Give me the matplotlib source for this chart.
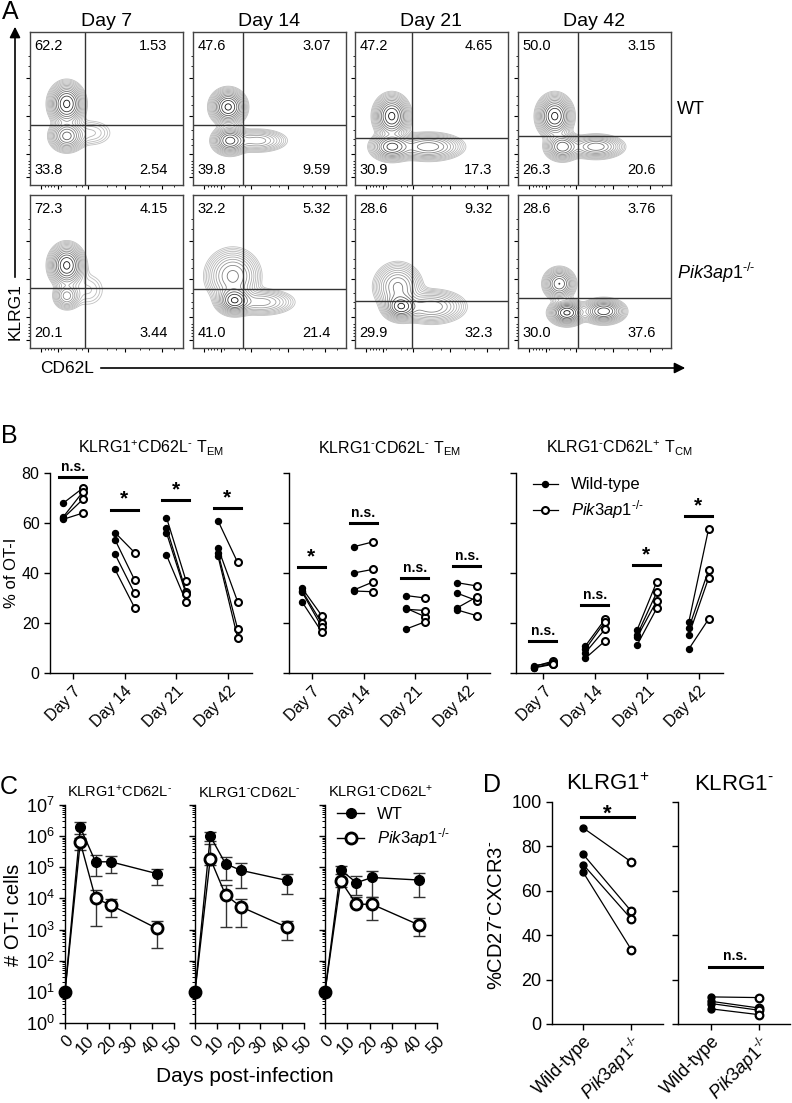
import matplotlib
matplotlib.use("Agg")
import matplotlib.pyplot as plt
import numpy as np
from matplotlib.patches import FancyArrowPatch

plt.rcParams['font.family'] = ['Liberation Sans', 'DejaVu Sans']
plt.rcParams['mathtext.fontset'] = 'custom'
plt.rcParams['mathtext.rm'] = 'Liberation Sans'
plt.rcParams['mathtext.it'] = 'Liberation Sans:italic'
plt.rcParams['mathtext.bf'] = 'Liberation Sans:bold'
plt.rcParams['axes.linewidth'] = 1.0

KO = r'$\mathit{Pik3ap1}^{\text{-/-}}$'
NEG = r'$^{\text{-}}$'
POS = r'$^{+}$'

# ---------------- data ----------------
# Panel A: quadrant frequencies (UL, UR, LL, LR) per day
days_a = ['Day 7', 'Day 14', 'Day 21', 'Day 42']
quad_wt = [('62.2', '1.53', '33.8', '2.54'), ('47.6', '3.07', '39.8', '9.59'),
           ('47.2', '4.65', '30.9', '17.3'), ('50.0', '3.15', '26.3', '20.6')]
quad_ko = [('72.3', '4.15', '20.1', '3.44'), ('32.2', '5.32', '41.0', '21.4'),
           ('28.6', '9.32', '29.9', '32.3'), ('28.6', '3.76', '30.0', '37.6')]
# gate positions (fraction of axis): vertical CD62L gate, horizontal KLRG1 gate
gate_x_wt = [0.36, 0.33, 0.37, 0.39]
gate_y_wt = [0.39, 0.39, 0.31, 0.32]
gate_x_ko = [0.36, 0.33, 0.37, 0.39]
gate_y_ko = [0.39, 0.385, 0.31, 0.33]
# population clusters: (x, y, sx, sy, weight)
pops_wt = [
    [(0.24, 0.53, 0.05, 0.06, 1.0), (0.24, 0.32, 0.05, 0.045, 0.6), (0.40, 0.34, 0.08, 0.05, 0.08)],
    [(0.23, 0.51, 0.05, 0.05, 0.9), (0.24, 0.29, 0.05, 0.04, 0.7), (0.42, 0.29, 0.09, 0.035, 0.25)],
    [(0.24, 0.45, 0.05, 0.06, 0.9), (0.24, 0.25, 0.06, 0.04, 0.7), (0.48, 0.25, 0.10, 0.04, 0.45)],
    [(0.24, 0.45, 0.05, 0.06, 0.9), (0.29, 0.25, 0.05, 0.04, 0.6), (0.51, 0.25, 0.08, 0.035, 0.45)],
]
pops_ko = [
    [(0.24, 0.54, 0.05, 0.06, 1.0), (0.24, 0.34, 0.04, 0.04, 0.35), (0.38, 0.38, 0.07, 0.07, 0.06)],
    [(0.26, 0.47, 0.08, 0.08, 0.5), (0.27, 0.31, 0.05, 0.04, 1.0), (0.45, 0.30, 0.10, 0.04, 0.3)],
    [(0.28, 0.40, 0.07, 0.07, 0.5), (0.30, 0.27, 0.05, 0.04, 1.0), (0.50, 0.27, 0.10, 0.05, 0.45)],
    [(0.27, 0.42, 0.045, 0.045, 0.7), (0.32, 0.23, 0.05, 0.035, 1.0), (0.56, 0.24, 0.06, 0.035, 0.85)],
]

# Panel B: % of OT-I per mouse (paired WT -> KO)
days_b = ['Day 7', 'Day 14', 'Day 21', 'Day 42']
b1_wt = [[68.0, 62.5, 61.5, 62.0], [56.2, 53.4, 47.6, 41.5], [62.2, 58.2, 56.1, 47.2], [60.9, 50.1, 48.1, 46.8]]
b1_ko = [[74.0, 72.5, 64.0, 69.5], [48.2, 37.3, 32.0, 26.2], [36.9, 32.6, 31.6, 28.6], [44.3, 28.6, 17.7, 14.2]]
b1_sig = ['n.s.', '*', '*', '*']
b1_bar = [78.4, 65.4, 69.1, 66.0]
b2_wt = [[34.0, 33.0, 32.5, 28.5], [50.5, 40.0, 33.2, 32.8], [31.0, 26.0, 25.5, 17.5], [36.1, 31.9, 26.1, 25.2]]
b2_ko = [[23.0, 20.0, 18.5, 16.5], [52.5, 41.5, 36.5, 32.5], [30.0, 22.5, 25.0, 20.5], [34.8, 28.9, 30.5, 22.9]]
b2_sig = ['*', 'n.s.', 'n.s.', 'n.s.']
b2_bar = [42.3, 59.9, 38.2, 43.0]
b3_wt = [[2.5, 2.0, 3.0, 2.2], [10.8, 9.5, 8.1, 5.9], [17.2, 15.2, 14.3, 11.2], [20.5, 17.9, 15.2, 9.6]]
b3_ko = [[4.8, 3.5, 4.0, 3.8], [21.5, 20.5, 17.5, 12.8], [36.5, 32.3, 28.9, 25.9], [57.5, 41.1, 37.9, 21.5]]
b3_sig = ['n.s.', 'n.s.', '*', '*']
b3_bar = [12.8, 27.2, 43.1, 62.8]

# Panel C: # OT-I cells (mean, lower, upper)
days_c = [0, 7, 14, 21, 42]
c1_wt = [10, 1.9e6, 1.5e5, 1.5e5, 6.3e4]
c1_wt_lo = [10, 1.2e6, 5.2e4, 6.6e4, 2.8e4]
c1_wt_hi = [10, 2.9e6, 2.5e5, 2.3e5, 9.1e4]
c1_ko = [10, 6.4e5, 1.0e4, 6.1e3, 1.1e3]
c1_ko_lo = [10, 3.5e5, 1.3e3, 2.5e3, 2.6e2]
c1_ko_hi = [10, 9.0e5, 1.9e4, 9.5e3, 1.9e3]
c2_wt = [10, 1.0e6, 1.3e5, 8.0e4, 3.8e4]
c2_wt_lo = [10, 7.0e5, 3.8e4, 2.1e4, 1.4e4]
c2_wt_hi = [10, 1.4e6, 2.1e5, 1.4e5, 6.3e4]
c2_ko = [10, 1.9e5, 1.3e4, 5.4e3, 1.2e3]
c2_ko_lo = [10, 1.2e5, 1.2e3, 1.2e3, 4.7e2]
c2_ko_hi = [10, 5.6e5, 2.7e4, 9.5e3, 1.9e3]
c3_wt = [10, 8.3e4, 3.2e4, 4.7e4, 3.9e4]
c3_wt_lo = [10, 6.0e4, 1.3e4, 1.1e4, 1.1e4]
c3_wt_hi = [10, 1.1e5, 5.4e4, 7.8e4, 6.7e4]
c3_ko = [10, 3.7e4, 6.5e3, 6.5e3, 1.4e3]
c3_ko_lo = [10, 2.3e4, 6.5e3, 2.0e3, 6.0e2]
c3_ko_hi = [10, 4.5e4, 1.1e4, 1.1e4, 2.3e3]

# Panel D: %CD27-CXCR3-
groups_d = ['Wild-type', KO]
d1_wt = [88.3, 76.4, 71.8, 68.3]
d1_ko = [73.0, 50.8, 47.3, 33.5]
d2_wt = [12.2, 10.2, 9.2, 6.8]
d2_ko = [11.9, 7.2, 6.2, 4.2]

# ---------------- layout helpers ----------------
W, H = 792, 1103
fig = plt.figure(figsize=(W / 100, H / 100), dpi=100)


def add_ax(x0, y0, x1, y1):
    return fig.add_axes([x0 / W, 1 - y1 / H, (x1 - x0) / W, (y1 - y0) / H])


def ftext(x, y, s, **kw):
    fig.text(x / W, 1 - y / H, s, **kw)


def farrow(x0, y0, x1, y1):
    fig.add_artist(FancyArrowPatch((x0 / W, 1 - y0 / H), (x1 / W, 1 - y1 / H),
                                   transform=fig.transFigure, arrowstyle='-|>',
                                   mutation_scale=16, lw=1.2, color='k'))


# ---------------- Panel A ----------------
gx = np.linspace(0, 1, 220)
GX, GY = np.meshgrid(gx, gx)
cont_cmap = matplotlib.colors.LinearSegmentedColormap.from_list('g', ['#c0c0c0', '#101010'])
col_x = [30, 193, 355, 518]
row_y = [32, 195]
for r, (quads, gxs, gys, pops) in enumerate([(quad_wt, gate_x_wt, gate_y_wt, pops_wt),
                                              (quad_ko, gate_x_ko, gate_y_ko, pops_ko)]):
    for c in range(4):
        ax = add_ax(col_x[c], row_y[r], col_x[c] + 153, row_y[r] + 153)
        dens = np.zeros_like(GX)
        for (mx, my, sx, sy, w) in pops[c]:
            dens += w * np.exp(-((GX - mx) ** 2 / (2 * sx ** 2) + (GY - my) ** 2 / (2 * sy ** 2)))
        dens /= dens.max()
        levels = np.geomspace(0.025, 0.92, 14)
        ax.contour(GX, GY, dens, levels=levels, cmap=cont_cmap, linewidths=0.6)
        ax.axvline(gxs[c], color='#333333', lw=1.0)
        ax.axhline(gys[c], color='#333333', lw=1.0)
        ul, ur, ll, lr = quads[c]
        ax.text(0.03, 0.91, ul, transform=ax.transAxes, fontsize=10.5, va='center', ha='left')
        ax.text(0.9, 0.91, ur, transform=ax.transAxes, fontsize=10.5, va='center', ha='right')
        ax.text(0.03, 0.1, ll, transform=ax.transAxes, fontsize=10.5, va='center', ha='left')
        ax.text(0.9, 0.1, lr, transform=ax.transAxes, fontsize=10.5, va='center', ha='right')
        ax.set_xlim(0, 1)
        ax.set_ylim(0, 1)
        ax.set_xticks([0.07, 0.18, 0.38, 0.62, 0.86])
        ax.set_xticks([0.1, 0.12, 0.14, 0.16, 0.2, 0.3, 0.34, 0.5, 0.56, 0.72, 0.78, 0.94], minor=True)
        ax.set_yticks([0.05, 0.2, 0.45, 0.7])
        ax.set_yticks([0.08, 0.1, 0.12, 0.14, 0.16, 0.26, 0.3, 0.36, 0.52, 0.58, 0.78, 0.84], minor=True)
        ax.tick_params(which='major', length=3, width=0.8, labelbottom=False, labelleft=False)
        ax.tick_params(which='minor', length=1.5, width=0.6)
        for s in ax.spines.values():
            s.set_color('#444444')
        if r == 0:
            ax.set_title(days_a[c], fontsize=14, pad=4)

ftext(677, 110, 'WT', fontsize=13, va='center', ha='left')
ftext(677, 273, KO, fontsize=13, va='center', ha='left')
ftext(15, 312, 'KLRG1', fontsize=12.5, rotation=90, va='center', ha='center')
farrow(15, 280, 15, 24)
ftext(40, 368, 'CD62L', fontsize=12.5, va='center', ha='left')
farrow(98, 368, 688, 368)
ftext(10, 12, 'A', fontsize=18, va='center', ha='center')

# ---------------- Panel B ----------------
b_specs = [
    ((50, 473, 252, 673), (-0.45, 3.47), b1_wt, b1_ko, b1_sig, b1_bar,
     'KLRG1' + POS + 'CD62L' + NEG + r' T$_{\rm EM}$'),
    ((289, 473, 490, 673), (-0.44, 3.44), b2_wt, b2_ko, b2_sig, b2_bar,
     'KLRG1' + NEG + 'CD62L' + NEG + r' T$_{\rm EM}$'),
    ((516, 473, 723, 673), (-0.53, 3.47), b3_wt, b3_ko, b3_sig, b3_bar,
     'KLRG1' + NEG + 'CD62L' + POS + r' T$_{\rm CM}$'),
]
for k, (box, xl, wt, ko, sig, bar, title) in enumerate(b_specs):
    ax = add_ax(*box)
    for i in range(len(days_b)):
        xw, xk = i - 0.19, i + 0.19
        for j in range(len(wt[i])):
            ax.plot([xw, xk], [wt[i][j], ko[i][j]], color='k', lw=0.9, zorder=2)
        ax.plot([xw] * len(wt[i]), wt[i], 'o', color='k', ms=4.3, zorder=3, clip_on=False)
        ax.plot([xk] * len(ko[i]), ko[i], 'o', mfc='white', mec='k', mew=1.5, ms=5, zorder=3,
                clip_on=False)
        ax.plot([i - 0.27, i + 0.25], [bar[i], bar[i]], color='k', lw=2.2)
        if sig[i] == '*':
            ax.text(i - 0.01, bar[i] + 0.3, '*', ha='center', va='bottom', fontsize=15, fontweight='bold')
        else:
            ax.text(i - 0.01, bar[i] + 1.2, 'n.s.', ha='center', va='bottom', fontsize=10, fontweight='bold')
    ax.set_xlim(*xl)
    ax.set_ylim(0, 80)
    ax.set_yticks([0, 20, 40, 60, 80])
    ax.set_xticks(range(len(days_b)))
    ax.set_xticklabels(days_b, rotation=45, ha='right', rotation_mode='anchor', fontsize=11)
    ax.tick_params(length=4, width=1, labelsize=11.5)
    if k > 0:
        ax.set_yticklabels([])
    ax.spines['top'].set_visible(False)
    ax.spines['right'].set_visible(False)
    ax.set_title(title, fontsize=11.5, pad=14)
    if k == 2:
        ax.plot([], [], '-o', color='k', ms=4.3, lw=0.9, label='Wild-type')
        ax.plot([], [], '-o', color='k', mfc='white', mec='k', mew=1.5, ms=5, lw=0.9, label=KO)
        ax.legend(loc='upper left', frameon=False, fontsize=12, handlelength=1.5,
                  borderaxespad=0.1, labelspacing=0.35, bbox_to_anchor=(0.04, 1.02))

ftext(12, 573, '% of OT-I', fontsize=12, rotation=90, va='center', ha='center')
ftext(9, 436, 'B', fontsize=18, va='center', ha='center')

# ---------------- Panel C ----------------
c_specs = [
    ((65, 805, 174, 1023), c1_wt, c1_wt_lo, c1_wt_hi, c1_ko, c1_ko_lo, c1_ko_hi, 'KLRG1' + POS + 'CD62L' + NEG),
    ((195, 805, 304, 1023), c2_wt, c2_wt_lo, c2_wt_hi, c2_ko, c2_ko_lo, c2_ko_hi, 'KLRG1' + NEG + 'CD62L' + NEG),
    ((325, 805, 437, 1023), c3_wt, c3_wt_lo, c3_wt_hi, c3_ko, c3_ko_lo, c3_ko_hi, 'KLRG1' + NEG + 'CD62L' + POS),
]
for k, (box, wt, wlo, whi, ko, klo, khi, title) in enumerate(c_specs):
    ax = add_ax(*box)
    ax.set_yscale('log')
    wt, wlo, whi = np.array(wt), np.array(wlo), np.array(whi)
    ko, klo, khi = np.array(ko), np.array(klo), np.array(khi)
    ax.errorbar(days_c[1:], ko[1:], yerr=[ko[1:] - klo[1:], khi[1:] - ko[1:]], fmt='none',
                ecolor='#333333', elinewidth=1, capsize=4, capthick=1, zorder=2)
    ax.errorbar(days_c[1:], wt[1:], yerr=[wt[1:] - wlo[1:], whi[1:] - wt[1:]], fmt='none',
                ecolor='#333333', elinewidth=1, capsize=4, capthick=1, zorder=2)
    ax.plot(days_c, ko, '-', color='k', lw=1, zorder=3)
    ax.plot(days_c[1:], ko[1:], 'o', mfc='white', mec='k', mew=2, ms=8, zorder=4)
    ax.plot(days_c, wt, '-', color='k', lw=1, zorder=3)
    ax.plot(days_c[1:], wt[1:], 'o', color='k', ms=7, zorder=5)
    ax.plot(days_c[:1], wt[:1], 'o', color='k', ms=9, zorder=5, clip_on=False)
    ax.set_xlim(0, 50)
    ax.set_ylim(1, 1e7)
    ax.set_xticks([0, 10, 20, 30, 40, 50])
    ax.set_xticklabels(['0', '10', '20', '30', '40', '50'], rotation=45, ha='right',
                       rotation_mode='anchor', fontsize=12)
    ax.set_yticks([10.0 ** n for n in range(8)])
    ax.yaxis.set_minor_locator(matplotlib.ticker.LogLocator(base=10, subs=np.arange(2, 10), numticks=20))
    ax.yaxis.set_minor_formatter(matplotlib.ticker.NullFormatter())
    if k == 0:
        ax.set_yticklabels([r'$10^{%d}$' % n for n in range(8)], fontsize=13)
    else:
        ax.set_yticklabels([])
    ax.tick_params(which='major', length=4, width=1)
    ax.tick_params(which='minor', length=2, width=0.7)
    ax.spines['top'].set_visible(False)
    ax.spines['right'].set_visible(False)
    ax.set_title(title, fontsize=10.5, pad=6)
    if k == 2:
        ax.plot([], [], '-o', color='k', ms=7, lw=1, label='WT')
        ax.plot([], [], '-o', color='k', mfc='white', mec='k', mew=2, ms=8, lw=1, label=KO)
        ax.legend(loc='upper left', frameon=False, fontsize=12, handlelength=1.6,
                  borderaxespad=0.0, labelspacing=0.25, bbox_to_anchor=(0.05, 1.02))

ftext(14, 915, '# OT-I cells', fontsize=14.5, rotation=90, va='center', ha='center')
ftext(245, 1077, 'Days post-infection', fontsize=15, va='center', ha='center')
ftext(9, 787, 'C', fontsize=18, va='center', ha='center')

# ---------------- Panel D ----------------
d_specs = [
    ((552, 802, 663, 1024), (-0.65, 1.66), d1_wt, d1_ko, '*', 93.2, 'KLRG1' + POS),
    ((678, 802, 790, 1024), (-0.7, 1.65), d2_wt, d2_ko, 'n.s.', 25.8, 'KLRG1' + NEG),
]
for k, (box, xl, wt, ko, sig, bar, title) in enumerate(d_specs):
    ax = add_ax(*box)
    for j in range(len(wt)):
        ax.plot([0, 1], [wt[j], ko[j]], color='k', lw=0.9, zorder=2)
    ax.plot([0] * len(wt), wt, 'o', color='k', ms=5, zorder=3)
    ax.plot([1] * len(ko), ko, 'o', mfc='white', mec='k', mew=1.6, ms=5.5, zorder=3)
    ax.plot([-0.04, 1.06], [bar, bar], color='k', lw=2.2)
    if sig == '*':
        ax.text(0.5, bar - 1.0, '*', ha='center', va='baseline', fontsize=16, fontweight='bold')
    else:
        ax.text(0.5, bar + 1.5, 'n.s.', ha='center', va='bottom', fontsize=10, fontweight='bold')
    ax.set_xlim(*xl)
    ax.set_ylim(0, 100)
    ax.set_yticks([0, 20, 40, 60, 80, 100])
    ax.set_xticks([0, 1])
    ax.set_xticklabels(groups_d, rotation=45, ha='right', rotation_mode='anchor', fontsize=11)
    ax.tick_params(length=4, width=1, labelsize=13)
    ax.tick_params(axis='x', pad=2)
    if k > 0:
        ax.set_yticklabels([])
    ax.spines['top'].set_visible(False)
    ax.spines['right'].set_visible(False)
    ax.set_title(title, fontsize=16, pad=9)

ftext(497, 915, '%CD27' + NEG + 'CXCR3' + NEG, fontsize=14.5, rotation=90, va='center', ha='center')
ftext(492, 785, 'D', fontsize=18, va='center', ha='center')

fig.savefig('out.png', dpi=100)
